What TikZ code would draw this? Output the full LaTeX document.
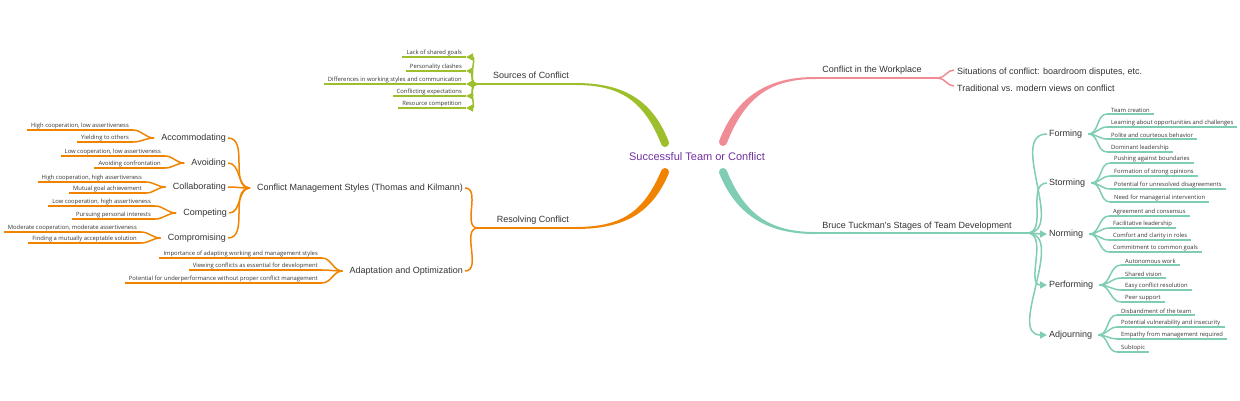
\documentclass[tikz,border=0pt]{standalone}
\usepackage{fontspec}
\setmainfont{Liberation Sans}
\newfontfamily\leaffont{Open Sans}
\usetikzlibrary{arrows.meta,calc}
\definecolor{cgreen}{HTML}{9CBF2B}
\definecolor{cpink}{HTML}{EF8C96}
\definecolor{corange}{HTML}{F08300}
\definecolor{cteal}{HTML}{7ECDB4}
\definecolor{cpurple}{HTML}{7030A0}
\definecolor{ctext}{HTML}{333333}
\newcommand{\leafR}[5]{\node[leaf,anchor=south west] (#1) at (#2,#3) {#5}; \draw[leafline,#4] (#1.south west) -- (#1.south east);}
\newcommand{\leafL}[5]{\node[leaf,anchor=south east] (#1) at (#2,#3) {#5}; \draw[leafline,#4] (#1.south west) -- (#1.south east);}
\begin{document}
\begin{tikzpicture}[x=1pt,y=-1pt,
  title/.style={font=\fontsize{11}{13}\selectfont, text=cpurple, inner sep=0pt},
  branch/.style={font=\fontsize{9}{11}\selectfont, text=ctext, inner sep=2pt},
  leaf/.style={font=\leaffont\fontsize{5.85}{7}\selectfont, text=ctext, inner xsep=4pt, inner ysep=1pt},
  leafline/.style={line width=1.3pt},
  conn/.style={line width=1.5pt},
  trunk/.style={line width=2pt},
  tip/.style={-{Triangle[length=7pt,width=7pt]}}]
\useasboundingbox (0,0) rectangle (1240,400);

\node[title] (c) at (697,157) {Successful Team or Conflict};

% ---------- green: Sources of Conflict
\fill[cgreen] (668.7,141.5) .. controls (650.7,95.5) and (618,83) .. (575,83) -- (575,85) .. controls (618,85) and (643.3,98.5) .. (661.3,144.5) -- cycle;
\fill[cgreen] (665,143) circle[radius=4pt];
\coordinate (gE) at (575,84);
\coordinate (jS) at (477,84);
\draw[trunk,cgreen] (gE) -- (jS);
\node[branch] (src) at (531,75) {Sources of Conflict};
\leafL{s1}{466}{57}{cgreen}{Lack of shared goals}
\leafL{s2}{466}{71}{cgreen}{Personality clashes}
\leafL{s3}{466}{84}{cgreen}{Differences in working styles and communication}
\leafL{s4}{466}{96}{cgreen}{Conflicting expectations}
\leafL{s5}{466}{108}{cgreen}{Resource competition}
\foreach \n in {s1,s2,s3,s4,s5}
  \draw[conn,cgreen,tip] (jS) to[out=180,in=0] (\n.south east);

% ---------- pink: Conflict in the Workplace
\fill[cpink] (719.3,140.5) .. controls (737.3,94.5) and (770,77) .. (815,77) -- (815,79) .. controls (770,79) and (744.7,97.5) .. (726.7,143.5) -- cycle;
\fill[cpink] (723,142) circle[radius=4pt];
\coordinate (rE) at (815,78);
\coordinate (jW) at (938,78);
\draw[trunk,cpink] (rE) -- (jW);
\node[branch] (cw) at (872,70) {Conflict in the Workplace};
\node[branch,anchor=west,inner xsep=1pt] (sit) at (956,72) {Situations of conflict: boardroom disputes, etc.};
\node[branch,anchor=west,inner xsep=1pt] (trad) at (956,88) {Traditional vs. modern views on conflict};
\draw[conn,cpink] (jW) to[out=0,in=180] ($(sit.west)+(-2,-2)$);
\draw[conn,cpink] (jW) to[out=0,in=180] ($(trad.west)+(-2,-2)$);

% ---------- orange: Resolving Conflict
\fill[corange] (668.7,173.5) .. controls (650.7,216.5) and (620,229) .. (575,229) -- (575,227) .. controls (620,227) and (643.3,213.5) .. (661.3,170.5) -- cycle;
\fill[corange] (665,172) circle[radius=4pt];
\coordinate (oE) at (575,228);
\coordinate (jR) at (478,228);
\draw[trunk,corange] (oE) -- (jR);
\node[branch] (rc) at (533,220) {Resolving Conflict};

\node[branch,anchor=east] (cms) at (465,188) {Conflict Management Styles (Thomas and Kilmann)};
\node[branch,anchor=east] (ado) at (465,271) {Adaptation and Optimization};
\draw[conn,corange] (jR) to[out=180,in=0] (cms.east);
\draw[conn,corange] (jR) to[out=180,in=0] (ado.east);
\coordinate (jC) at ($(cms.west)+(-5,0)$);
\coordinate (jA) at ($(ado.west)+(-5,0)$);

\node[branch,anchor=east] (acc) at (228,138) {Accommodating};
\node[branch,anchor=east] (avo) at (228,163) {Avoiding};
\node[branch,anchor=east] (col) at (228,187) {Collaborating};
\node[branch,anchor=east] (com) at (229,213) {Competing};
\node[branch,anchor=east] (cmp) at (228,238) {Compromising};
\foreach \n in {acc,avo,col,com,cmp}{
  \draw[conn,corange] (jC) to[out=180,in=0] (\n.east);
  \coordinate (j\n) at ($(\n.west)+(-5,0)$);
}
\leafL{acc1}{133}{130}{corange}{High cooperation, low assertiveness}
\leafL{acc2}{133}{142}{corange}{Yielding to others}
\leafL{avo1}{165}{156}{corange}{Low cooperation, low assertiveness}
\leafL{avo2}{165}{168}{corange}{Avoiding confrontation}
\leafL{col1}{146}{182}{corange}{High cooperation, high assertiveness}
\leafL{col2}{146}{193}{corange}{Mutual goal achievement}
\leafL{com1}{155}{206}{corange}{Low cooperation, high assertiveness}
\leafL{com2}{155}{219}{corange}{Pursuing personal interests}
\leafL{cmp1}{141}{232}{corange}{Moderate cooperation, moderate assertiveness}
\leafL{cmp2}{141}{243}{corange}{Finding a mutually acceptable solution}
\foreach \n in {acc,avo,col,com,cmp}{
  \draw[conn,corange] (j\n) to[out=180,in=0] (\n1.south east);
  \draw[conn,corange] (j\n) to[out=180,in=0] (\n2.south east);
}
\leafL{ad1}{322}{258}{corange}{Importance of adapting working and management styles}
\leafL{ad2}{322}{270}{corange}{Viewing conflicts as essential for development}
\leafL{ad3}{322}{283}{corange}{Potential for underperformance without proper conflict management}
\foreach \n in {ad1,ad2,ad3}
  \draw[conn,corange] (jA) to[out=180,in=0] (\n.south east);

% ---------- teal: Tuckman
\fill[cteal] (719.3,173.5) .. controls (737.3,217.5) and (770,234) .. (815,234) -- (815,232) .. controls (770,232) and (744.7,214.5) .. (726.7,170.5) -- cycle;
\fill[cteal] (723,172) circle[radius=4pt];
\coordinate (tE) at (815,233);
\coordinate (jT) at (1027,233);
\draw[trunk,cteal] (tE) -- (jT);
\node[branch] (bt) at (917,226) {Bruce Tuckman\textquotesingle s Stages of Team Development};

\node[branch,anchor=west] (frm) at (1047,134) {Forming};
\node[branch,anchor=west] (stm) at (1047,183) {Storming};
\node[branch,anchor=west] (nrm) at (1047,234) {Norming};
\node[branch,anchor=west] (prf) at (1047,285) {Performing};
\node[branch,anchor=west] (adj) at (1047,335) {Adjourning};
\draw[conn,cteal] (jT) to[out=0,in=180] (frm.west);
\draw[conn,cteal] (jT) to[out=0,in=180] (stm.west);
\draw[conn,cteal,tip] (jT) to[out=0,in=180] (nrm.west);
\draw[conn,cteal,tip] (jT) to[out=0,in=180] (prf.west);
\draw[conn,cteal,tip] (jT) to[out=0,in=180] (adj.west);
\foreach \n in {frm,stm,nrm,prf,adj}
  \coordinate (j\n) at ($(\n.east)+(4,0)$);

\leafR{frm1}{1107}{114}{cteal}{Team creation}
\leafR{frm2}{1107}{127}{cteal}{Learning about opportunities and challenges}
\leafR{frm3}{1107}{139}{cteal}{Polite and courteous behavior}
\leafR{frm4}{1107}{152}{cteal}{Dominant leadership}
\leafR{stm1}{1110}{163}{cteal}{Pushing against boundaries}
\leafR{stm2}{1110}{176}{cteal}{Formation of strong opinions}
\leafR{stm3}{1110}{189}{cteal}{Potential for unresolved disagreements}
\leafR{stm4}{1110}{202}{cteal}{Need for managerial intervention}
\leafR{nrm1}{1109}{216}{cteal}{Agreement and consensus}
\leafR{nrm2}{1109}{228}{cteal}{Facilitative leadership}
\leafR{nrm3}{1109}{240}{cteal}{Comfort and clarity in roles}
\leafR{nrm4}{1109}{252}{cteal}{Commitment to common goals}
\leafR{prf1}{1121}{265}{cteal}{Autonomous work}
\leafR{prf2}{1121}{278}{cteal}{Shared vision}
\leafR{prf3}{1121}{290}{cteal}{Easy conflict resolution}
\leafR{prf4}{1121}{302}{cteal}{Peer support}
\leafR{adj1}{1117}{315}{cteal}{Disbandment of the team}
\leafR{adj2}{1117}{327}{cteal}{Potential vulnerability and insecurity}
\leafR{adj3}{1117}{339}{cteal}{Empathy from management required}
\leafR{adj4}{1117}{352}{cteal}{Subtopic}
\foreach \n in {frm,stm,nrm,prf,adj}
  \foreach \k in {1,2,3,4}
    \draw[conn,cteal] (j\n) to[out=0,in=180] (\n\k.south west);
\end{tikzpicture}
\end{document}
